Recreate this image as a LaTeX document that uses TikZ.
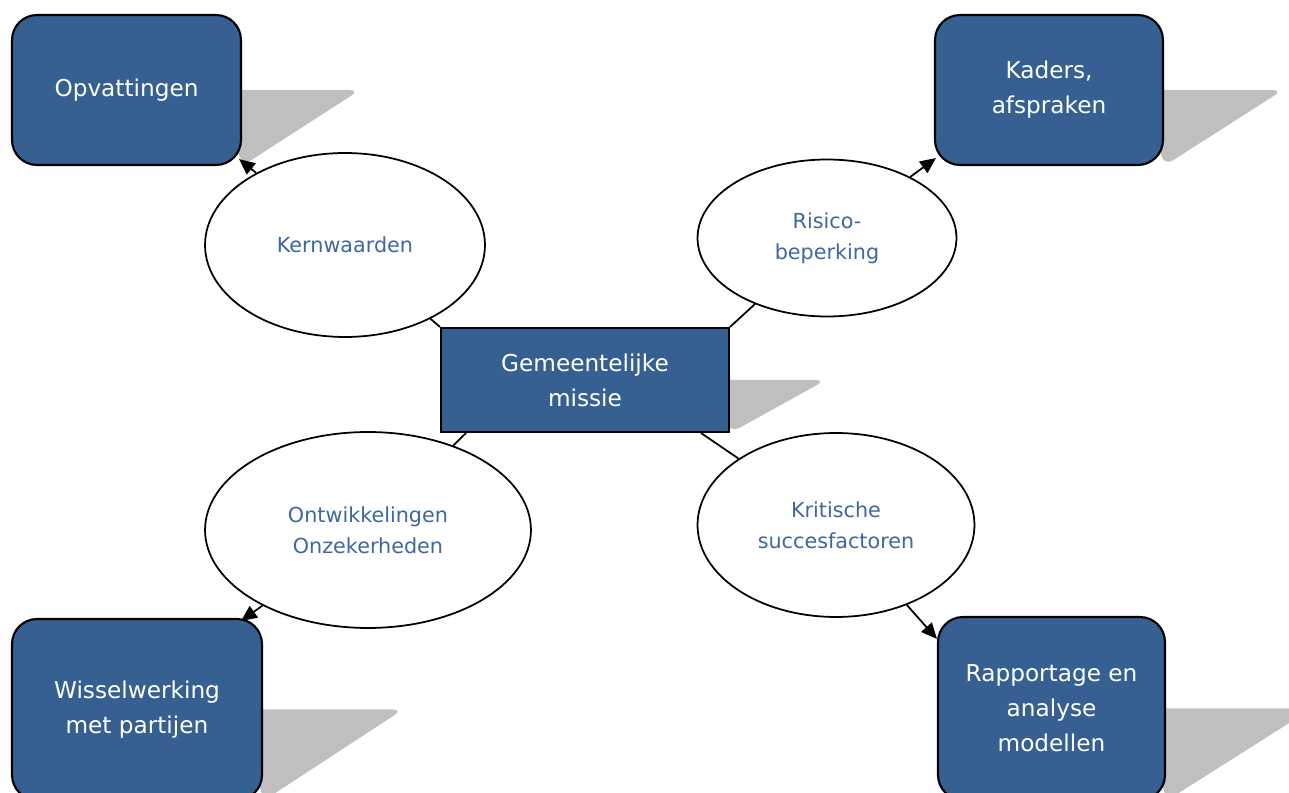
\documentclass[tikz,border=0pt]{standalone}
\usepackage{fontspec}
\setmainfont{DejaVu Sans}
\usetikzlibrary{arrows.meta,shapes.geometric,backgrounds,calc}
\definecolor{boxblue}{RGB}{54,96,146}
\definecolor{txtblue}{RGB}{62,104,158}
\definecolor{shadowgray}{RGB}{191,191,191}
\tikzset{
  box/.style={draw=black,line width=1.2pt,fill=boxblue,text=white,rounded corners=0.5cm,
    align=center,font=\fontsize{13.2}{20}\selectfont},
  missie/.style={box,rounded corners=0pt},
  bubble/.style={draw=black,line width=1pt,fill=white,ellipse,inner sep=0pt,
    text=txtblue,align=center,font=\fontsize{11.8}{17.6}\selectfont},
  link/.style={line width=1pt},
  arr/.style={link,-{Triangle[length=9pt,width=8pt]}},
  schaduw/.style={fill=shadowgray,rounded corners=6pt}
}
\begin{document}
\begin{tikzpicture}[x=0.02cm,y=-0.02cm]
    \useasboundingbox (0,0) rectangle (1289,793);

    \node[box,minimum width=4.58cm,minimum height=3cm] (opv) at (126.5,90) {Opvattingen};
    \node[box,minimum width=4.56cm,minimum height=3cm] (kader) at (1049,90) {Kaders,\\afspraken};
    \node[box,minimum width=5cm,minimum height=3.62cm] (wissel) at (137,709.5) {Wisselwerking\\met partijen};
    \node[box,minimum width=4.54cm,minimum height=3.66cm] (rapp) at (1051.5,708.5) {Rapportage en\\analyse\\modellen};
    \node[missie,minimum width=5.76cm,minimum height=2.08cm] (missie) at (585,380) {Gemeentelijke\\missie};

    \node[bubble,minimum width=5.6cm,minimum height=3.68cm] (kern) at (345,245) {Kernwaarden};
    \node[bubble,minimum width=5.18cm,minimum height=3.14cm] (risico) at (827,238) {Risico-\\beperking};
    \node[bubble,minimum width=6.52cm,minimum height=3.92cm] (ontw) at (368,530) {Ontwikkelingen\\Onzekerheden};
    \node[bubble,minimum width=5.54cm,minimum height=3.68cm] (krit) at (836,525) {Kritische\\succesfactoren};

    \begin{scope}[on background layer]
      \fill[schaduw] ($(opv.east)+(-20,0)$) -- ++(138,0) -- (opv.south east) -- cycle;
      \fill[schaduw] ($(kader.east)+(-20,0)$) -- ++(139,0) -- (kader.south east) -- cycle;
      \fill[schaduw] ($(wissel.east)+(-20,0)$) -- ++(160,0) -- (wissel.south east) -- cycle;
      \fill[schaduw] ($(rapp.east)+(-20,0)$) -- ++(166,0) -- (rapp.south east) -- cycle;
      \fill[schaduw] ($(missie.east)+(-20,0)$) -- ++(116,0) -- (missie.south east) -- cycle;
    \end{scope}

    \draw[link] (missie.north west) -- (kern);
    \draw[link] (missie.north east) -- (risico);
    \draw[link] ($(missie.south west)+(26,0)$) -- (ontw);
    \draw[link] ($(missie.south east)+(-29,0)$) -- (krit);

    \draw[arr] (kern) -- ($(opv.south east)+(-3,-7)$);
    \draw[arr] (risico) -- ($(kader.south west)+(2,-8)$);
    \draw[arr] (ontw) -- ($(wissel.north east)+(-22,3)$);
    \draw[arr] (krit) -- ($(rapp.north west)+(0,23)$);
\end{tikzpicture}
\end{document}
